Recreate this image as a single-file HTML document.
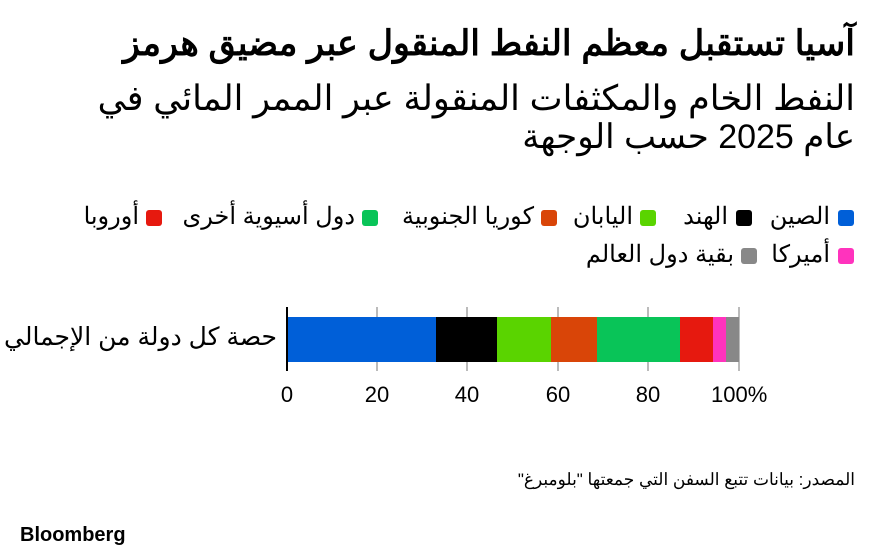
<!DOCTYPE html>
<html><head><meta charset="utf-8"><style>
html,body{margin:0;padding:0;background:#fff;}
body{width:880px;height:559px;position:relative;overflow:hidden;font-family:"Liberation Sans","Noto Sans CJK SC",sans-serif;color:#000;}
.r{position:absolute;direction:rtl;white-space:nowrap;line-height:1.15;}
.sq{position:absolute;width:16px;height:16px;border-radius:3px;}
.seg{position:absolute;top:317px;height:45px;}
.tick{position:absolute;top:307px;height:64px;width:2px;background:#bbb;}
.tl{position:absolute;top:382px;font-size:22px;width:60px;text-align:center;}
.lg{font-size:24px;}
</style></head><body>
<div class="r" style="right:25px;top:24px;font-size:35px;font-weight:bold;">آسيا تستقبل معظم النفط المنقول عبر مضيق هرمز</div>
<div class="r" style="right:25px;top:79px;font-size:35px;">النفط الخام والمكثفات المنقولة عبر الممر المائي في</div>
<div class="r" style="right:25px;top:118px;font-size:34px;">عام 2025 حسب الوجهة</div>

<div class="sq" style="left:838px;top:210px;background:#005fd8"></div><div class="r lg" style="right:50px;top:203px;">الصين</div>
<div class="sq" style="left:736px;top:210px;background:#000"></div><div class="r lg" style="right:152px;top:203px;">الهند</div>
<div class="sq" style="left:640px;top:210px;background:#5ad400"></div><div class="r lg" style="right:247px;top:203px;">اليابان</div>
<div class="sq" style="left:541px;top:210px;background:#d94508"></div><div class="r lg" style="right:346px;top:203px;">كوريا الجنوبية</div>
<div class="sq" style="left:362px;top:210px;background:#09c458"></div><div class="r lg" style="right:525px;top:203px;">دول أسيوية أخرى</div>
<div class="sq" style="left:146px;top:210px;background:#e6190f"></div><div class="r lg" style="right:741px;top:203px;">أوروبا</div>
<div class="sq" style="left:838px;top:248px;background:#ff33bd"></div><div class="r lg" style="right:50px;top:241px;">أميركا</div>
<div class="sq" style="left:741px;top:248px;background:#888"></div><div class="r lg" style="right:146px;top:241px;">بقية دول العالم</div>

<div class="tick" style="left:376px"></div>
<div class="tick" style="left:466px"></div>
<div class="tick" style="left:557px"></div>
<div class="tick" style="left:647px"></div>
<div class="tick" style="left:738px"></div>
<div class="seg" style="left:287px;width:149px;background:#005fd8"></div>
<div class="seg" style="left:436px;width:61px;background:#000"></div>
<div class="seg" style="left:497px;width:54px;background:#5ad400"></div>
<div class="seg" style="left:551px;width:46px;background:#d94508"></div>
<div class="seg" style="left:597px;width:83px;background:#09c458"></div>
<div class="seg" style="left:680px;width:33px;background:#e6190f"></div>
<div class="seg" style="left:713px;width:13px;background:#ff33bd"></div>
<div class="seg" style="left:726px;width:13px;background:#888"></div>
<div style="position:absolute;left:286px;top:307px;width:2px;height:64px;background:#000"></div>

<div class="tl" style="left:257px">0</div>
<div class="tl" style="left:347px">20</div>
<div class="tl" style="left:437px">40</div>
<div class="tl" style="left:528px">60</div>
<div class="tl" style="left:618px">80</div>
<div class="tl" style="left:711px;text-align:left;">100%</div>

<div class="r" style="right:603px;top:323px;font-size:25px;">حصة كل دولة من الإجمالي</div>
<div class="r" style="right:25px;top:470px;font-size:17px;">المصدر: بيانات تتبع السفن التي جمعتها "بلومبرغ"</div>
<div style="position:absolute;left:20px;top:524px;font-size:20px;font-weight:bold;">Bloomberg</div>
</body></html>
